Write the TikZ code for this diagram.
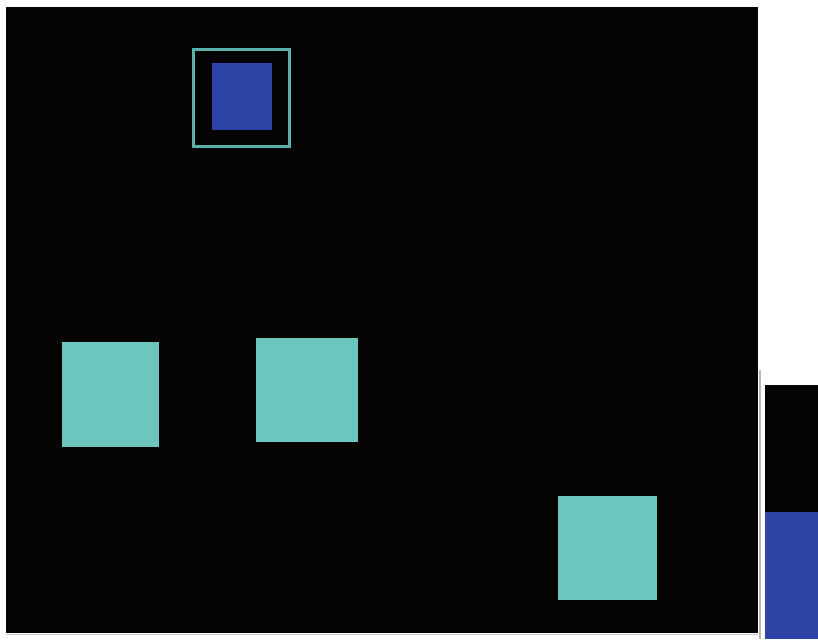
\documentclass[tikz,border=0pt]{standalone}
\usepackage{tikz}
\usepackage{xcolor}
\definecolor{bgblack}{HTML}{050303}
\definecolor{tealfill}{HTML}{6CC6BE}
\definecolor{tealline}{HTML}{5AB0AA}
\definecolor{deepblue}{HTML}{2B44A6}
\definecolor{edgegray}{HTML}{B8B8B8}

\begin{document}
\begin{tikzpicture}[x=1pt, y=-1pt,
  cell/.style={fill=tealfill, draw=none, inner sep=0pt},
  frame/.style={draw=tealline, line width=3pt, fill=bgblack, inner sep=0pt,
                minimum width=96pt, minimum height=97pt},
  core/.style={fill=deepblue, draw=none, inner sep=0pt,
               minimum width=60pt, minimum height=67pt}]

  \useasboundingbox (0,0) rectangle (818,639);
  \fill[white] (0,0) rectangle (818,639);

  % main field
  \fill[bgblack] (6,7) rectangle (758,633);
  \draw[edgegray, line width=1.5pt] (760,370) -- (760,639);
  \draw[edgegray!70, line width=1pt] (6,634.5) -- (758,634.5);

  % marker at the top
  \node[frame] (mark) at (241.5,98) {};
  \node[core] (markcore) at (242,96.5) {};

  % teal squares
  \node[cell, minimum width=97pt, minimum height=105pt] (sqa) at (110.5,394.5) {};
  \node[cell, minimum width=102pt, minimum height=104pt] (sqb) at (307,390) {};
  \node[cell, minimum width=99pt, minimum height=104pt] (sqc) at (607.5,548) {};

  % side panel
  \fill[bgblack] (765,385) rectangle (818,512);
  \fill[deepblue] (765,512) rectangle (818,639);
\end{tikzpicture}
\end{document}
